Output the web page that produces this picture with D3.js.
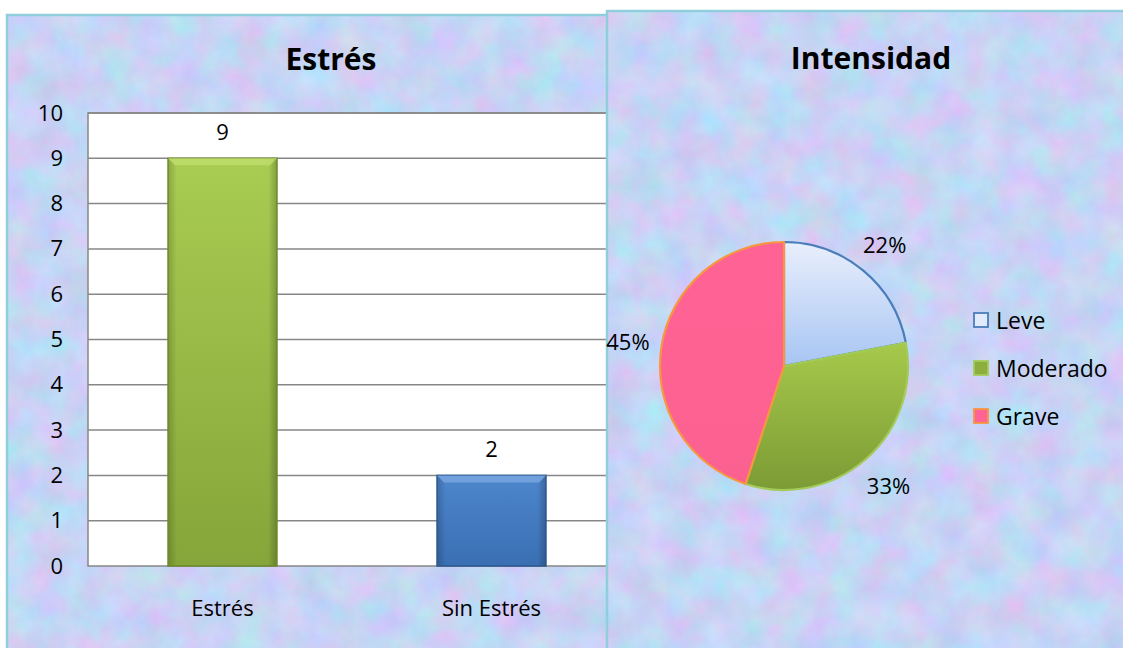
<!DOCTYPE html>
<html>
<head>
<meta charset="utf-8">
<script src="https://cdn.jsdelivr.net/npm/d3@7"></script>
<style>
    body { margin: 0; background: #ffffff; }
    svg { display: block; font-family: "Open Sans", sans-serif; }
</style>
</head>
<body>
<div id="chart"></div>
<script>
// --- bar chart data ---
var barCategories = ["Estrés", "Sin Estrés"];
var barValues = [9, 2];
var barTicks = [0, 1, 2, 3, 4, 5, 6, 7, 8, 9, 10];

// --- pie chart data ---
var pieCategories = ["Leve", "Moderado", "Grave"];
var pieValues = [22, 33, 45];
var pieLabels = ["22%", "33%", "45%"];

var W = 1123, H = 648;

var svg = d3.select("#chart").append("svg")
    .attr("width", W)
    .attr("height", H);

var defs = svg.append("defs");

// mottled pastel paper texture for the panel backgrounds
var paper = defs.append("filter")
    .attr("id", "paper")
    .attr("x", 0).attr("y", 0).attr("width", "100%").attr("height", "100%")
    .attr("color-interpolation-filters", "sRGB");
paper.append("feTurbulence")
    .attr("type", "fractalNoise")
    .attr("baseFrequency", "0.03")
    .attr("numOctaves", 5)
    .attr("seed", 7)
    .attr("result", "noise");
paper.append("feColorMatrix")
    .attr("in", "noise")
    .attr("type", "matrix")
    .attr("values",
        "0.24 -0.10 0 0 0.71 " +
        "-0.06 0.18 0 0 0.77 " +
        "0 0 0.10 0 0.91 " +
        "0 0 0 0 1");

function vGradient(id, stops) {
    var g = defs.append("linearGradient").attr("id", id)
        .attr("x1", 0).attr("y1", 0).attr("x2", 0).attr("y2", 1);
    stops.forEach(function(s) {
        g.append("stop").attr("offset", s[0]).attr("stop-color", s[1]);
    });
}
function hGradient(id, stops) {
    var g = defs.append("linearGradient").attr("id", id)
        .attr("x1", 0).attr("y1", 0).attr("x2", 1).attr("y2", 0);
    stops.forEach(function(s) {
        g.append("stop").attr("offset", s[0]).attr("stop-color", s[1]).attr("stop-opacity", s[2]);
    });
}

vGradient("barGreen", [[0, "#a9cc52"], [1, "#86a53a"]]);
vGradient("barBlue", [[0, "#4d86cc"], [1, "#3a6fb3"]]);
hGradient("barShade", [[0, "#000", 0.18], [0.08, "#000", 0.0], [0.92, "#000", 0.0], [1, "#000", 0.22]]);
vGradient("pieLeve", [[0, "#e9effc"], [1, "#a7c5f3"]]);
vGradient("pieModerado", [[0, "#a6c94b"], [1, "#7c9b35"]]);
vGradient("pieGrave", [[0, "#ff6396"], [1, "#fb6190"]]);

var barColors = ["url(#barGreen)", "url(#barBlue)"];
var barStroke = ["#6b8a2a", "#2c578f"];
var barBevel = ["#bedd6c", "#78a6e0"];

var pieFill = ["url(#pieLeve)", "url(#pieModerado)", "url(#pieGrave)"];
var pieStroke = ["#4a7ebb", "#a3cb5a", "#f7963f"];
var legendFill = ["#e2ebfb", "#8cae3f", "#ff6396"];

// ---------------- left panel : bar chart ----------------
var left = svg.append("g").attr("class", "left-panel");
left.append("rect")
    .attr("x", 7).attr("y", 15).attr("width", 640).attr("height", 660)
    .attr("filter", "url(#paper)");
left.append("rect")
    .attr("x", 7).attr("y", 15).attr("width", 640).attr("height", 660)
    .attr("fill", "none")
    .attr("stroke", "#90cedb")
    .attr("stroke-width", 2.5);

var plot = { left: 88, right: 626, top: 113, bottom: 566 };

var x = d3.scaleBand()
    .domain(barCategories)
    .range([plot.left, plot.right]);
var barWidth = x.bandwidth() * 0.405;

var y = d3.scaleLinear()
    .domain([0, 10])
    .range([plot.bottom, plot.top]);

left.append("rect")
    .attr("x", plot.left).attr("y", plot.top)
    .attr("width", plot.right - plot.left)
    .attr("height", plot.bottom - plot.top)
    .attr("fill", "#ffffff");

left.append("g")
    .selectAll("line")
    .data(barTicks.slice(1))
    .enter()
    .append("line")
    .attr("x1", plot.left).attr("x2", plot.right)
    .attr("y1", function(d) { return y(d); })
    .attr("y2", function(d) { return y(d); })
    .attr("stroke", "#878787")
    .attr("stroke-width", 1.5);

left.append("rect")
    .attr("x", plot.left).attr("y", plot.top)
    .attr("width", plot.right - plot.left)
    .attr("height", plot.bottom - plot.top)
    .attr("fill", "none")
    .attr("stroke", "#878787")
    .attr("stroke-width", 1.5);

var bars = left.append("g").selectAll("g.bar")
    .data(barValues)
    .enter()
    .append("g")
    .attr("class", "bar");

function bx(d, i) { return x(barCategories[i]) + (x.bandwidth() - barWidth) / 2; }

bars.append("rect")
    .attr("x", bx)
    .attr("y", function(d) { return y(d); })
    .attr("width", barWidth)
    .attr("height", function(d) { return y(0) - y(d); })
    .style("fill", function(d, i) { return barColors[i]; });

bars.append("rect")
    .attr("x", bx)
    .attr("y", function(d) { return y(d); })
    .attr("width", barWidth)
    .attr("height", function(d) { return y(0) - y(d); })
    .style("fill", "url(#barShade)")
    .style("stroke", function(d, i) { return barStroke[i]; })
    .style("stroke-width", 1.5);

// bevel on top of each bar
bars.append("path")
    .attr("d", function(d, i) {
        var x0 = bx(d, i), x1 = x0 + barWidth, y0 = y(d), b = 7;
        return "M" + x0 + "," + y0 + "L" + x1 + "," + y0 +
               "L" + (x1 - b) + "," + (y0 + b) + "L" + (x0 + b) + "," + (y0 + b) + "Z";
    })
    .style("fill", function(d, i) { return barBevel[i]; })
    .style("opacity", 0.85);

bars.append("text")
    .attr("x", function(d, i) { return x(barCategories[i]) + x.bandwidth() / 2; })
    .attr("y", function(d) { return y(d) - 18.5; })
    .attr("text-anchor", "middle")
    .style("font-size", "22px")
    .style("fill", "#000")
    .text(function(d) { return d; });

var yAxis = left.append("g")
    .attr("transform", "translate(" + plot.left + ",0)")
    .call(d3.axisLeft(y).tickValues(barTicks).tickSize(0).tickPadding(25).tickFormat(d3.format("d")));
yAxis.select(".domain").remove();
yAxis.selectAll("text").style("font-size", "22px").style("fill", "#000")
    .style("font-family", "'Open Sans', sans-serif");

var xAxis = left.append("g")
    .attr("transform", "translate(0," + plot.bottom + ")")
    .call(d3.axisBottom(x).tickSize(0).tickPadding(34));
xAxis.select(".domain").remove();
xAxis.selectAll("text").style("font-size", "22px").style("fill", "#000")
    .style("font-family", "'Open Sans', sans-serif");

left.append("text")
    .attr("x", 331).attr("y", 58)
    .attr("text-anchor", "middle")
    .attr("dominant-baseline", "central")
    .style("font-size", "30px")
    .style("font-weight", "bold")
    .text("Estrés");

// ---------------- right panel : pie chart ----------------
var right = svg.append("g").attr("class", "right-panel");
right.append("rect")
    .attr("x", 607).attr("y", 11).attr("width", 540).attr("height", 660)
    .attr("filter", "url(#paper)");
right.append("rect")
    .attr("x", 607).attr("y", 11).attr("width", 540).attr("height", 660)
    .attr("fill", "none")
    .attr("stroke", "#90cedb")
    .attr("stroke-width", 2.5);

right.append("text")
    .attr("x", 871).attr("y", 57)
    .attr("text-anchor", "middle")
    .attr("dominant-baseline", "central")
    .style("font-size", "30px")
    .style("font-weight", "bold")
    .text("Intensidad");

var cx = 784, cy = 366, radius = 124;

var pie = d3.pie().sort(null).value(function(d) { return d; });
var arcs = pie(pieValues);
var arc = d3.arc().innerRadius(0).outerRadius(radius);
var labelArc = d3.arc().innerRadius(158).outerRadius(158);

var pieG = right.append("g").attr("transform", "translate(" + cx + "," + cy + ")");

pieG.selectAll("path")
    .data(arcs)
    .enter()
    .append("path")
    .attr("d", arc)
    .style("fill", function(d, i) { return pieFill[i]; })
    .style("stroke", function(d, i) { return pieStroke[i]; })
    .style("stroke-width", 2.2)
    .style("stroke-linejoin", "round");

pieG.selectAll("text")
    .data(arcs)
    .enter()
    .append("text")
    .attr("transform", function(d) { return "translate(" + labelArc.centroid(d) + ")"; })
    .attr("text-anchor", "middle")
    .attr("dominant-baseline", "central")
    .style("font-size", "22px")
    .text(function(d, i) { return pieLabels[i]; });

var legend = right.append("g").selectAll("g")
    .data(pieCategories)
    .enter()
    .append("g")
    .attr("transform", function(d, i) { return "translate(974," + (320 + i * 48) + ")"; });

legend.append("rect")
    .attr("x", 0).attr("y", -7)
    .attr("width", 14).attr("height", 14)
    .style("fill", function(d, i) { return legendFill[i]; })
    .style("stroke", function(d, i) { return pieStroke[i]; })
    .style("stroke-width", 1.8);

legend.append("text")
    .attr("x", 22).attr("y", 0)
    .attr("dominant-baseline", "central")
    .style("font-size", "23px")
    .text(function(d) { return d; });
</script>
</body>
</html>
